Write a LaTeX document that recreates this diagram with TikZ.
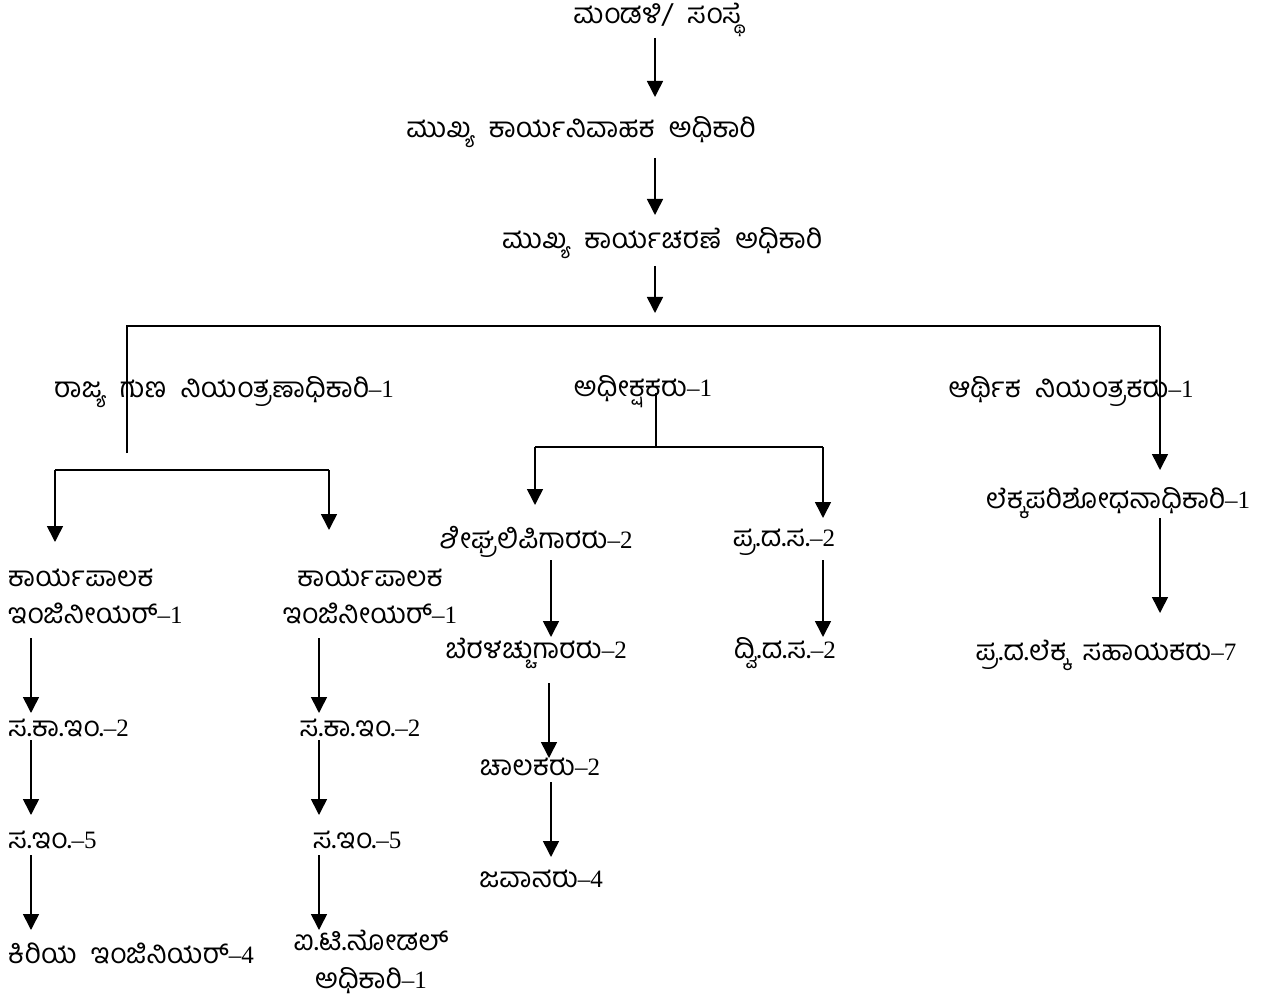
\documentclass[tikz,border=0pt]{standalone}
\usepackage{fontspec}
\setmainfont{Liberation Serif}
\newfontfamily\kn[Script=Kannada,LetterSpace=1]{Hind Mysuru}
\newcommand\K[1]{{\kn\fontsize{28}{37}\selectfont #1}}
\usetikzlibrary{arrows.meta}
\begin{document}
\begin{tikzpicture}[x=1pt,y=-1pt,
  lbl/.style={inner sep=0pt,font=\fontsize{25}{37}\selectfont},
  conn/.style={line width=1.6pt},
  arr/.style={line width=1.6pt,-{Triangle[length=16pt,width=16pt]}}]
\useasboundingbox (0,0) rectangle (1274,1008);
% nodes
\node[lbl] (top) at (657,20) {\K{ಮಂಡಳಿ/ \ ಸಂಸ್ಥೆ}};
\node[lbl] (ceo) at (581,132) {\K{ಮುಖ್ಯ \ ಕಾರ್ಯನಿವಾಹಕ \ ಅಧಿಕಾರಿ}};
\node[lbl] (coo) at (662,243) {\K{ಮುಖ್ಯ \ ಕಾರ್ಯಚರಣೆ \ ಅಧಿಕಾರಿ}};
\node[lbl] (qc) at (224,392) {\K{ರಾಜ್ಯ \ ಗುಣ \ ನಿಯಂತ್ರಣಾಧಿಕಾರಿ}–1};
\node[lbl] (sup) at (643,392) {\K{ಅಧೀಕ್ಷಕರು}–1};
\node[lbl] (fin) at (1071,392) {\K{ಆರ್ಥಿಕ \ ನಿಯಂತ್ರಕರು}–1};
\node[lbl,anchor=west,align=left] (eeA) at (8,596) {\K{ಕಾರ್ಯಪಾಲಕ}\\\K{ಇಂಜಿನೀಯರ್}–1};
\node[lbl,align=center] (eeB) at (370,596) {\K{ಕಾರ್ಯಪಾಲಕ}\\\K{ಇಂಜಿನೀಯರ್}–1};
\node[lbl,anchor=west] (aeeA) at (8,728) {\K{ಸ.ಕಾ.ಇಂ.}–2};
\node[lbl,anchor=west] (aeA) at (8,840) {\K{ಸ.ಇಂ.}–5};
\node[lbl,anchor=west] (jeA) at (8,953) {\K{ಕಿರಿಯ \ ಇಂಜಿನಿಯರ್}–4};
\node[lbl] (aeeB) at (360,728) {\K{ಸ.ಕಾ.ಇಂ.}–2};
\node[lbl] (aeB) at (357,840) {\K{ಸ.ಇಂ.}–5};
\node[lbl,align=center,font=\fontsize{25}{38}\selectfont] (itB) at (371,962) {\K{ಐ.ಟಿ.ನೋಡಲ್}\\\K{ಅಧಿಕಾರಿ}–1};
\node[lbl] (steno) at (536,542) {\K{ಶೀಘ್ರಲಿಪಿಗಾರರು}–2};
\node[lbl] (typist) at (536,653) {\K{ಬೆರಳಚ್ಚುಗಾರರು}–2};
\node[lbl] (driver) at (540,767) {\K{ಚಾಲಕರು}–2};
\node[lbl] (peon) at (541,879) {\K{ಜವಾನರು}–4};
\node[lbl] (fda) at (784,542) {\K{ಪ್ರ.ದ.ಸ.}–2};
\node[lbl] (sda) at (785,653) {\K{ದ್ವಿ.ದ.ಸ.}–2};
\node[lbl] (aud) at (1118,503) {\K{ಲೆಕ್ಕಪರಿಶೋಧನಾಧಿಕಾರಿ}–1};
\node[lbl] (acc) at (1106,655) {\K{ಪ್ರ.ದ.ಲೆಕ್ಕ \ ಸಹಾಯಕರು}–7};
% coordinates
\coordinate (t1) at (655,38);  \coordinate (t2) at (655,97);
\coordinate (c1) at (655,158); \coordinate (c2) at (655,215);
\coordinate (o1) at (655,266); \coordinate (o2) at (655,313);
\coordinate (hl) at (127,326); \coordinate (hr) at (1160,326);
\coordinate (qcb) at (127,453);
\coordinate (finb) at (1160,470);
\coordinate (lbl1) at (55,470); \coordinate (lbr) at (329,470);
\coordinate (eeAt) at (55,542); \coordinate (eeBt) at (329,530);
\coordinate (sp1) at (656,393); \coordinate (sp2) at (656,447);
\coordinate (ml) at (535,447); \coordinate (mr) at (823,447);
\coordinate (stt) at (535,505); \coordinate (fdt) at (823,518);
% connectors
\draw[arr] (t1) -- (t2);
\draw[arr] (c1) -- (c2);
\draw[arr] (o1) -- (o2);
\draw[conn] (qcb) -- (hl) -- (hr);
\draw[arr] (hr) -- (finb);
\draw[conn] (lbl1) -- (lbr);
\draw[arr] (lbl1) -- (eeAt);
\draw[arr] (lbr) -- (eeBt);
\draw[conn] (sp1) -- (sp2);
\draw[conn] (ml) -- (mr);
\draw[arr] (ml) -- (stt);
\draw[arr] (mr) -- (fdt);
\draw[arr] (551,560) -- (551,637);
\draw[arr] (549,683) -- (549,758);
\draw[arr] (551,782) -- (551,857);
\draw[arr] (823,560) -- (823,637);
\draw[arr] (1160,518) -- (1160,613);
\draw[arr] (31,638) -- (31,713);
\draw[arr] (31,740) -- (31,815);
\draw[arr] (31,855) -- (31,930);
\draw[arr] (319,638) -- (319,713);
\draw[arr] (319,740) -- (319,815);
\draw[arr] (319,855) -- (319,930);
\end{tikzpicture}
\end{document}
